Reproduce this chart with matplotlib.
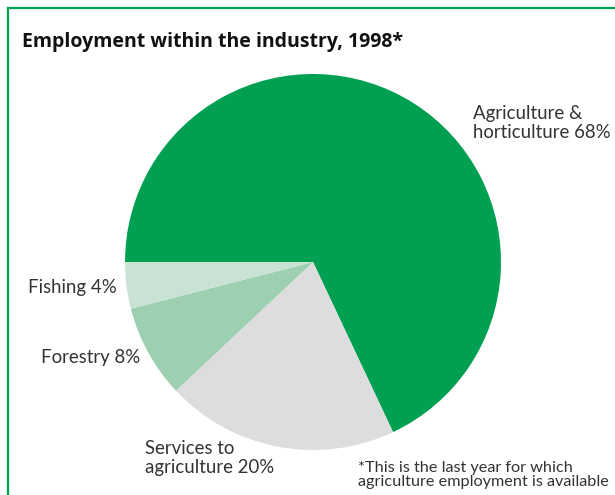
import matplotlib.pyplot as plt
from matplotlib.lines import Line2D

# Employment shares, 1998 (drawn clockwise from 9 o'clock)
sectors = ['Agriculture &\nhorticulture', 'Services to\nagriculture', 'Forestry', 'Fishing']
shares = [68, 20, 8, 4]
colors = ['#00a053', '#dddddd', '#9dcfb1', '#c9e2d3']

W, H = 615, 495
fig = plt.figure(figsize=(W / 100, H / 100), dpi=100)

def fx(x):
    return x / W

def fy(y):
    return 1 - y / H

# pie centred at (313, 262) px, radius 188 px
cx, cy, r = 313, 262, 188
ax = fig.add_axes([fx(cx - r), fy(cy + r), 2 * r / W, 2 * r / H])
ax.pie(shares, colors=colors, startangle=180, counterclock=False,
       wedgeprops=dict(linewidth=0))
ax.set_xlim(-1, 1)
ax.set_ylim(-1, 1)
ax.set_aspect('equal')
ax.axis('off')

# green frame on the left and top
green = '#00a053'
fig.add_artist(Line2D([fx(8), fx(8)], [fy(8), 0], color=green, lw=1.6))
fig.add_artist(Line2D([fx(8), 1], [fy(8), fy(8)], color=green, lw=1.6))

fig.text(fx(22), fy(47.5), 'Employment within the industry, 1998*',
         fontsize=14, fontweight='bold', family='Open Sans', color='#111111',
         va='baseline')

lab = dict(fontsize=13.4, family='Lato', color='#333333', linespacing=1.1)
labels = [f'{s} {v}%' for s, v in zip(sectors, shares)]
fig.text(fx(473), fy(123), labels[0], ha='left', va='center', **lab)
fig.text(fx(145), fy(458), labels[1], ha='left', va='center', **lab)
fig.text(fx(140), fy(358), labels[2], ha='right', va='center', **lab)
fig.text(fx(117), fy(287), labels[3], ha='right', va='center', **lab)

fig.text(fx(358), fy(475),
         '*This is the last year for which\nagriculture employment is available',
         ha='left', va='center', fontsize=11.7, family='Lato',
         color='#333333', linespacing=1.0)

fig.savefig('out.png', dpi=100)
